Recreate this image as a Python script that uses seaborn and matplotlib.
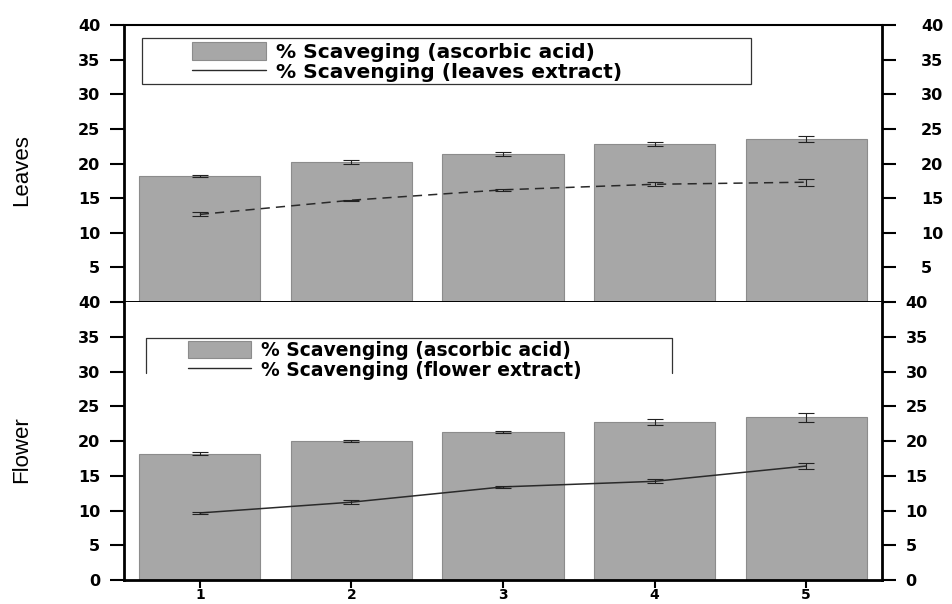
import matplotlib
matplotlib.use("Agg")
import matplotlib.pyplot as plt
import seaborn as sns
import pandas as pd
from matplotlib.patches import Patch, Rectangle
from matplotlib.lines import Line2D

sns.set_style("ticks", rc={"axes.edgecolor": "black", "xtick.color": "black",
                           "ytick.color": "black", "text.color": "black",
                           "axes.labelcolor": "black"})
plt.rcParams['font.family'] = ['DejaVu Sans']

# concentration steps
steps = [1, 2, 3, 4, 5]

# leaves panel
leaves_ascorbic = [18.2, 20.2, 21.4, 22.8, 23.5]
leaves_ascorbic_err = [0.1, 0.3, 0.25, 0.3, 0.4]
leaves_extract = [12.65, 14.7, 16.2, 17.0, 17.3]
leaves_extract_err = [0.3, 0.1, 0.1, 0.3, 0.5]

# flower panel
flower_ascorbic = [18.2, 20.0, 21.3, 22.7, 23.4]
flower_ascorbic_err = [0.15, 0.2, 0.15, 0.4, 0.6]
flower_extract = [9.65, 11.2, 13.4, 14.2, 16.4]
flower_extract_err = [0.1, 0.25, 0.1, 0.3, 0.4]

upper_ticks = [5, 10, 15, 20, 25, 30, 35, 40]
lower_ticks = [0, 5, 10, 15, 20, 25, 30, 35, 40]

BAR = "#a7a7a7"
BAR_EDGE = "#8c8c8c"
LINE = "#2a2a2a"
TICK_FONT = dict(family="DejaVu Sans", weight="bold", size=11.5)
LABEL_FONT = ['Liberation Sans Narrow', 'Liberation Sans', 'DejaVu Sans']

fig = plt.figure(figsize=(9.52, 6.04), dpi=100)
ax_top = fig.add_axes([0.1303, 0.5, 0.7962, 0.4586])
ax_bot = fig.add_axes([0.1303, 0.0397, 0.7962, 0.4603])


def draw_panel(ax, bars, bar_err, line, line_err, dashed):
    df = pd.DataFrame({"step": steps, "value": bars})
    sns.barplot(data=df, x="step", y="value", native_scale=True, color=BAR,
                saturation=1, edgecolor=BAR_EDGE, linewidth=0.8, width=0.8,
                errorbar=None, ax=ax)
    ax.errorbar(steps, bars, yerr=bar_err, fmt="none", ecolor="#222222",
                elinewidth=0.8, capsize=6, capthick=0.8, zorder=3)
    ldf = pd.DataFrame({"step": steps, "value": line})
    sns.lineplot(data=ldf, x="step", y="value", color=LINE, lw=1.1,
                 linestyle=(0, (6, 4)) if dashed else "-", ax=ax, zorder=4)
    ax.errorbar(steps, line, yerr=line_err, fmt="none", ecolor="#222222",
                elinewidth=0.8, capsize=6, capthick=0.8, zorder=4)
    ax.set_xlim(0.5, 5.5)
    ax.set_ylim(0, 40)
    ax.set_xlabel("")
    ax.set_ylabel("")
    for s in ax.spines.values():
        s.set_visible(True)
        s.set_color("black")
        s.set_zorder(6)


draw_panel(ax_top, leaves_ascorbic, leaves_ascorbic_err, leaves_extract,
           leaves_extract_err, dashed=True)
draw_panel(ax_bot, flower_ascorbic, flower_ascorbic_err, flower_extract,
           flower_extract_err, dashed=False)

# upper panel: left axis with labels, right labels on a twin with wider pad
ax_top.set_yticks(upper_ticks)
ax_top.set_yticklabels([str(t) for t in upper_ticks], fontdict=TICK_FONT)
ax_top.set_xticks([])
ax_top.tick_params(axis="y", direction="out", length=10, width=1.5,
                   left=True, right=False, labelleft=True, labelright=False,
                   pad=7)
ax_top_r = ax_top.twinx()
ax_top_r.set_ylim(0, 40)
ax_top_r.set_yticks(upper_ticks)
ax_top_r.set_yticklabels([str(t) for t in upper_ticks], fontdict=TICK_FONT)
ax_top_r.tick_params(axis="y", direction="out", length=10, width=1.5,
                     right=True, labelright=True, pad=18)
for s in ax_top_r.spines.values():
    s.set_visible(False)
ax_top.spines["left"].set_linewidth(2.0)
ax_top.spines["right"].set_linewidth(2.0)
ax_top.spines["top"].set_linewidth(1.5)
ax_top.spines["bottom"].set_linewidth(1.4)

# lower panel axes
ax_bot.set_yticks(lower_ticks)
ax_bot.set_yticklabels([str(t) for t in lower_ticks], fontdict=TICK_FONT)
ax_bot.set_xticks(steps)
ax_bot.set_xticklabels([str(s) for s in steps],
                       fontdict=dict(TICK_FONT, size=10))
ax_bot.tick_params(axis="y", direction="out", length=10, width=1.5,
                   left=True, right=True, labelleft=True, labelright=True, pad=7)
ax_bot.tick_params(axis="x", direction="out", length=6, width=1.5,
                   bottom=True, pad=0)
for t in ax_bot.yaxis.get_major_ticks():
    t.label2.set_fontproperties(matplotlib.font_manager.FontProperties(**TICK_FONT))
ax_bot.spines["left"].set_linewidth(2.0)
ax_bot.spines["right"].set_linewidth(2.0)
ax_bot.spines["bottom"].set_linewidth(2.0)
ax_bot.spines["top"].set_visible(False)

# panel titles on the left
fig.text(0.023, 0.718, "Leaves", rotation=90, ha="center", va="center",
         family=LABEL_FONT, fontsize=16)
fig.text(0.023, 0.255, "Flower", rotation=90, ha="center", va="center",
         family=LABEL_FONT, fontsize=16)

# legends
LEG_FONT = dict(family="DejaVu Sans", weight="bold")


def add_legend(ax, labels, anchor, fontsize, handlelength):
    handles = [Patch(facecolor=BAR, edgecolor=BAR_EDGE, linewidth=0.8),
               Line2D([], [], color=LINE, lw=1.0)]
    leg = ax.legend(handles, labels, loc="upper left", bbox_to_anchor=anchor,
                    frameon=False, prop=dict(size=fontsize, **LEG_FONT),
                    handlelength=handlelength, handleheight=1.0,
                    labelspacing=0.05, handletextpad=0.5, borderpad=0.0,
                    borderaxespad=0.0)
    leg.set_zorder(7)
    return leg


add_legend(ax_top, ["% Scaveging (ascorbic acid)",
                    "% Scavenging (leaves extract)"],
           (0.089, 0.94), 14.5, 3.7)
ax_top.add_patch(Rectangle((0.024, 0.787), 0.803, 0.166, transform=ax_top.transAxes,
                           fill=False, edgecolor="#333333", lw=0.9, zorder=5))

add_legend(ax_bot, ["% Scavenging (ascorbic acid)",
                    "% Scavenging (flower extract)"],
           (0.084, 0.86), 13.5, 3.4)
# open-bottom frame around the lower legend
ax_bot.plot([0.029, 0.029, 0.723, 0.723], [0.745, 0.87, 0.87, 0.745],
            transform=ax_bot.transAxes, color="#333333", lw=0.9, zorder=5,
            clip_on=False)

fig.savefig("out.png", dpi=100)
